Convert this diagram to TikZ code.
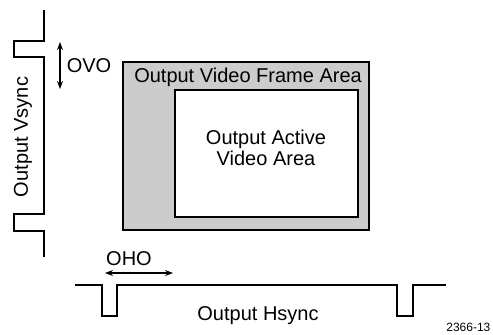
\documentclass[tikz,border=0pt]{standalone}
\usepackage{fontspec}
\setmainfont{Liberation Sans}
\usetikzlibrary{arrows.meta}

\begin{document}
\begin{tikzpicture}[x=0.5pt,y=-0.5pt,>={Stealth[length=4pt,width=3pt]},font=\fontsize{10}{10.5}\selectfont,line width=0.6pt]
\useasboundingbox (0,0) rectangle (493,335);
% vertical sync wave
\draw (44,10)--(44,41)--(14,41)--(14,57)--(44,57)--(44,214)--(14,214)--(14,231)--(44,231)--(44,257);
\node[rotate=90] (vsync) at (23,137){Output Vsync};
\coordinate (ovotop) at (60,42); \coordinate (ovobot) at (60,89);
\draw[<->] (ovotop)--(ovobot); \node (ovo) at (89,66){OVO};
% frame and active area
\draw[fill=gray!40,line width=1pt] (123,62) rectangle (369,230);
\draw[fill=white,line width=1pt] (175,90) rectangle (358,217);
\node[anchor=west] (frame) at (127,77){Output Video Frame Area};
\node[align=center] (active) at (266,148){Output Active\\Video Area};
% horizontal sync wave
\draw (75,285)--(102,285)--(102,316)--(117,316)--(117,285)--(397,285)--(397,316)--(413,316)--(413,285)--(446,285);
\coordinate (oholeft) at (105,273); \coordinate (ohoright) at (173,273);
\draw[<->] (oholeft)--(ohoright); \node (oho) at (129,259){OHO};
\node (hsync) at (258,316){Output Hsync};
\node[anchor=east,inner sep=0pt,font=\fontsize{6}{7}\selectfont] (fig) at (491,327){2366-13};
\end{tikzpicture}
\end{document}
